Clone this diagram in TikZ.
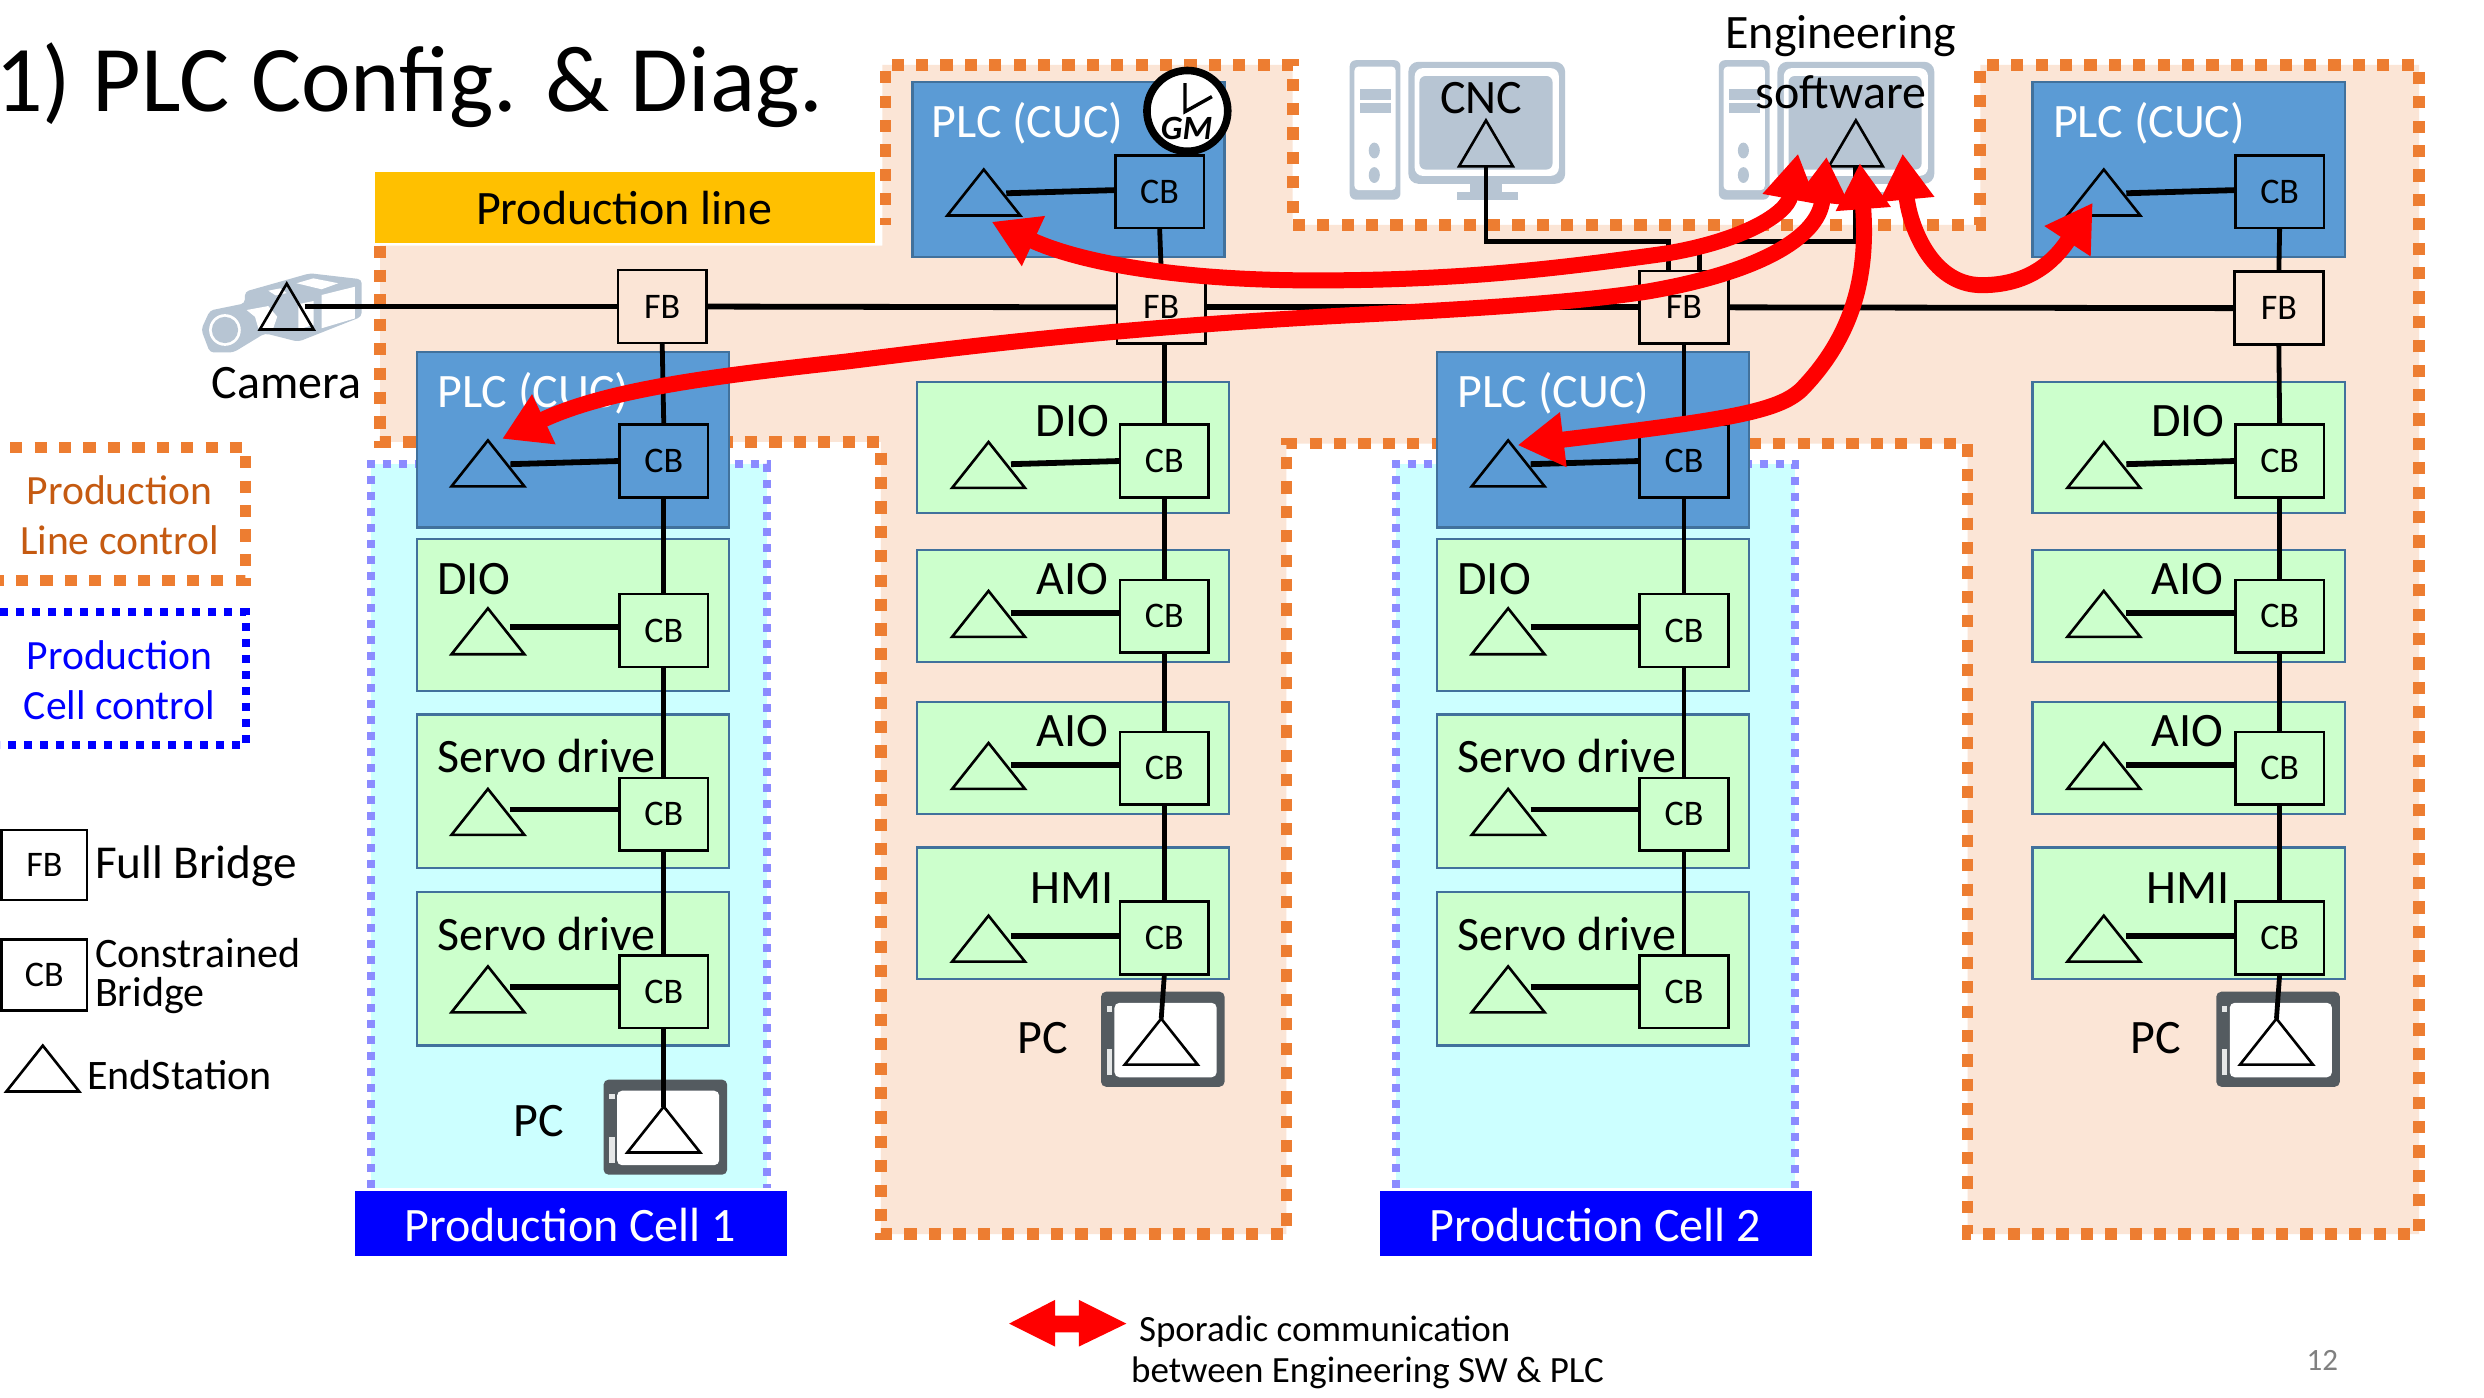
\documentclass[tikz,border=0pt]{standalone}
\usepackage{fontspec}
\setmainfont{Carlito}
\usetikzlibrary{shapes.geometric,arrows.meta}
\definecolor{peach}{HTML}{FBE5D6}
\definecolor{orangeD}{HTML}{ED7D31}
\definecolor{orangeT}{HTML}{C55A11}
\definecolor{cellD}{HTML}{8B8BFF}
\definecolor{cyanF}{HTML}{CCFFFF}
\definecolor{plcF}{HTML}{5B9BD5}
\definecolor{edgeB}{HTML}{41719C}
\definecolor{greenF}{HTML}{CCFFCC}
\definecolor{iconG}{HTML}{B7C5D3}
\definecolor{pcG}{HTML}{545B60}
\definecolor{yellowF}{HTML}{FFC000}
\def\uu{0.79209pt}
\newcommand{\fs}[1]{\fontsize{#1pt}{#1pt}\selectfont}
\tikzset{
 every node/.append style={inner sep=0pt,outer sep=0pt},
 lbl/.style={font=\fs{24}},
 lblw/.style={lbl,text=white},
 devbox/.style={draw=edgeB,line width=1.1pt,fill=#1},
 bridge/.style={draw=black,line width=1.3pt,fill=#1,minimum width={56*\uu},minimum height={46*\uu},font=\fs{18}},
 tristyle/.style={draw=black,line width=1.3pt,isosceles triangle,shape border rotate=90,isosceles triangle stretches,anchor=apex,minimum width={46*\uu},minimum height={29*\uu}},
 trinarrow/.style={tristyle,minimum width={34*\uu}},
 bus/.style={draw=black,line width=2.9pt},
 vbus/.style={draw=black,line width=2.4pt},
 orangedash/.style={draw=orangeD,line width=5.8pt,dash pattern=on 6.1pt off 6.1pt},
 celldash/.style={draw=cellD,line width=4pt,dash pattern=on 4pt off 4pt},
 bluedash/.style={draw=blue,line width=4pt,dash pattern=on 4pt off 4pt},
 redarrow/.style={draw=red,line width=8pt,{Triangle[length=23pt,width=26pt]}-{Triangle[length=23pt,width=26pt]}},
}
\newcommand{\bx}[6]{\node[#2,minimum width={(#5-#3)*\uu},minimum height={(#6-#4)*\uu}] (#1) at ({(#3+#5)/2},{(#4+#6)/2}) {};}
% id, L, T, B, fill, cb y, tri y, line left y, line right y
\newcommand{\devrow}[9]{
 \bx{box#1}{devbox=#5}{#2}{#3}{#2+197}{#4}
 \node[bridge=#5] (cb#1) at ({#2+156},#6) {CB};
 \node[tristyle] (tri#1) at ({#2+45},#7) {};
 \draw[bus] (tri#1.east |- 0,#8) -- (cb#1.west |- 0,#9);
}
% id, x0, y0 (top left of the icon)
\newcommand{\pcicon}[3]{
 \fill[pcG,rounded corners=2.5pt] (#2,#3) rectangle ++(78,60);
 \fill[white,rounded corners=2.5pt] ({#2+8.5},{#3+7}) rectangle ({#2+73},{#3+54});
 \fill[white!85!pcG] ({#2+3.5},{#3+9}) rectangle ++(3.5,3.5);
 \fill[white!85!pcG] ({#2+3.5},{#3+36}) rectangle ++(3.5,16.5);
 \node[tristyle] (tri#1) at ({#2+38},{#3+17}) {};
}
% id, dx
\newcommand{\station}[2]{
 \fill[iconG,rounded corners=3pt] ({852+#2},38) rectangle ({884+#2},126);
 \fill[white,rounded corners=2pt] ({855+#2},42) rectangle ({881+#2},120);
 \fill[iconG] ({858.5+#2},56) rectangle ({878+#2},63);
 \fill[iconG] ({858.5+#2},65) rectangle ({878+#2},71.5);
 \fill[iconG] ({867.5+#2},95) ellipse [x radius=3.5,y radius=5];
 \fill[iconG] ({867.5+#2},110.5) ellipse [x radius=3.5,y radius=5];
 \fill[iconG,rounded corners=5pt] ({889+#2},39) rectangle ({988+#2},116);
 \fill[white,rounded corners=4pt] ({893+#2},43) rectangle ({984+#2},111);
 \fill[iconG,rounded corners=3pt] ({896+#2},48) rectangle ({980+#2},107);
 \fill[iconG] ({928+#2},116) rectangle ({948+#2},121);
 \fill[iconG] ({920+#2},121) rectangle ({958+#2},126);
}
\begin{document}
\begin{tikzpicture}[x=0.79209pt,y=-0.79209pt]
\useasboundingbox (0,0) rectangle (1568,882);
\fill[white] (0,0) rectangle (1568,882);
% production line region
\fill[peach] (240,155)--(557,155)--(557,41)--(816,41)--(816,142)--(1250,142)--(1250,41)--(1527,41)--(1527,779)--(1242,779)--(1242,280)--(812,280)--(812,779)--(556,779)--(556,279)--(240,279)--cycle;
\draw[orangedash] (240,155)--(240,279)--(556,279)--(556,779)--(812,779)--(812,280)--(1242,280)--(1242,779)--(1527,779)--(1527,41)--(1250,41)--(1250,142)--(816,142)--(816,41)--(559,41)--(559,142);
% production cells
\fill[cyanF] (234,293) rectangle (484,750);
\draw[celldash] (234,750)--(234,293)--(484,293)--(484,750);
\fill[cyanF] (881,293) rectangle (1133,750);
\draw[celldash] (881,750)--(881,293)--(1133,293)--(1133,750);
% title
\node[anchor=west,font=\fs{47}] (title) at (-3,54) {1) PLC Config. \& Diag.};
% yellow
\bx{pline}{fill=yellowF,draw=white,line width=1pt}{236}{108}{553}{154}
\node[lbl] (plinet) at (394,131.5) {Production line};
% camera
\fill[iconG,rounded corners=2pt] (154.6,184.1)--(195.6,172.5)--(228.3,176.3)--(228.3,199.9)--(188.3,215.7)--(167.2,210.4)--(147.3,222.5)--(132.5,222.5)--(127,208)--(132.5,196)--(154.6,191.5)--cycle;
\fill[white] (142,208.3) circle [radius=10];
\fill[iconG] (142,208.3) circle [radius=8.3];
\fill[white] (155.7,195.7)--(169.3,193.2)--(175,199.9)--(172.5,207.2)--(163,207)--(161,200)--cycle;
\fill[white] (203,186.2)--(224,181)--(224,201)--(203,207.2)--cycle;
\fill[white] (187.2,178.8)--(197.8,175.7)--(213.5,178.8)--(203,182.6)--cycle;
\fill[white] (169.4,183.5)--(177,182)--(181,185)--(174,186.5)--cycle;
\fill[white] (188.3,192)--(198,190)--(198,205)--(188.3,208)--cycle;
\node[trinarrow] (triCam) at (181,179) {};
\node[lbl] (camt) at (181,242) {Camera};
% stations
\station{cnc}{0}
\station{eng}{233}
\node[trinarrow] (triCnc) at (938,76) {};
\node[trinarrow] (triEng) at (1171.5,76) {};
\node[lbl] (cnct) at (935,62) {CNC};
\node[lbl] (engt) at (1162,22.5) {Engineering};
\node[lbl] (engs) at (1162,58.5) {software};
% full bridges
\node[bridge=peach] (fbA) at (418,193.5) {FB};
\node[bridge=peach] (fbB) at (733,194) {FB};
\node[bridge=peach] (fbC) at (1063,194) {FB};
\node[bridge=peach] (fbD) at (1438.5,194.5) {FB};
% column A
\devrow{A1}{263}{222}{333}{plcF}{291}{278}{293}{291}
\devrow{A2}{263}{340}{436}{greenF}{398}{384}{396}{396}
\devrow{A3}{263}{451}{548}{greenF}{514}{498}{511}{511}
\devrow{A4}{263}{563}{660}{greenF}{626}{610}{623}{623}
\pcicon{A5}{381}{681.5}
\node[lblw,anchor=west] (tA1) at (276,248.5) {PLC (CUC)};
\node[lbl,anchor=west] (tA2) at (276,365.5) {DIO};
\node[lbl,anchor=west] (tA3) at (276,477.5) {Servo drive};
\node[lbl,anchor=west] (tA4) at (276,589.5) {Servo drive};
\node[lbl] (tA5) at (340,707.5) {PC};
% column C
\devrow{C1}{907}{222}{333}{plcF}{291}{278}{293}{291}
\devrow{C2}{907}{340}{436}{greenF}{398}{384}{396}{396}
\devrow{C3}{907}{451}{548}{greenF}{514}{498}{511}{511}
\devrow{C4}{907}{563}{660}{greenF}{626}{610}{623}{623}
\node[lblw,anchor=west] (tC1) at (920,248.5) {PLC (CUC)};
\node[lbl,anchor=west] (tC2) at (920,365.5) {DIO};
\node[lbl,anchor=west] (tC3) at (920,477.5) {Servo drive};
\node[lbl,anchor=west] (tC4) at (920,589.5) {Servo drive};
% column B
\devrow{B0}{576}{52}{162}{plcF}{121}{107}{122}{120}
\devrow{B1}{579}{241}{324}{greenF}{291}{279}{293}{291}
\devrow{B2}{579}{347}{418}{greenF}{389}{373}{387}{387}
\devrow{B3}{579}{443}{514}{greenF}{485}{469}{483}{483}
\devrow{B4}{579}{535}{618}{greenF}{592}{578}{591}{591}
\pcicon{B5}{695}{626}
\node[lblw,anchor=west] (tB0) at (588,78) {PLC (CUC)};
\node[lbl] (tB1) at (677,265.5) {DIO};
\node[lbl] (tB2) at (677,365.5) {AIO};
\node[lbl] (tB3) at (677,461.5) {AIO};
\node[lbl] (tB4) at (677,560.5) {HMI};
\node[lbl] (tB5) at (658,655.5) {PC};
% column D
\devrow{D0}{1283}{52}{162}{plcF}{121}{107}{122}{120}
\devrow{D1}{1283}{241}{324}{greenF}{291}{279}{293}{291}
\devrow{D2}{1283}{347}{418}{greenF}{389}{373}{387}{387}
\devrow{D3}{1283}{443}{514}{greenF}{485}{469}{483}{483}
\devrow{D4}{1283}{535}{618}{greenF}{592}{578}{591}{591}
\pcicon{D5}{1399}{626}
\node[lblw,anchor=west] (tD0) at (1296,78) {PLC (CUC)};
\node[lbl] (tD1) at (1381,265.5) {DIO};
\node[lbl] (tD2) at (1381,365.5) {AIO};
\node[lbl] (tD3) at (1381,461.5) {AIO};
\node[lbl] (tD4) at (1381,560.5) {HMI};
\node[lbl] (tD5) at (1361,655.5) {PC};
% bus
\draw[bus] (triCam.east |- fbA.west) -- (fbA.west);
\draw[bus] (fbA.east) -- (fbB.west);
\draw[bus] (fbB.east) -- (fbC.west);
\draw[bus] (fbC.east) -- (fbD.west);
% vertical links
\draw[vbus] (fbA.south) -- (cbA1.north);
\draw[vbus] (cbA1.south) -- (cbA2.north);
\draw[vbus] (cbA2.south) -- (cbA3.north);
\draw[vbus] (cbA3.south) -- (cbA4.north);
\draw[vbus] (cbA4.south) -- (triA5.apex);
\draw[vbus] (fbC.south) -- (cbC1.north);
\draw[vbus] (cbC1.south) -- (cbC2.north);
\draw[vbus] (cbC2.south) -- (cbC3.north);
\draw[vbus] (cbC3.south) -- (cbC4.north);
\draw[vbus] (cbB0.south) -- (fbB.north);
\draw[vbus] (cbB1.north |- fbB.south) -- (cbB1.north);
\draw[vbus] (cbB1.south) -- (cbB2.north);
\draw[vbus] (cbB2.south) -- (cbB3.north);
\draw[vbus] (cbB3.south) -- (cbB4.north);
\draw[vbus] (cbB4.south) -- (triB5.apex);
\draw[vbus] (cbD0.south) -- (fbD.north);
\draw[vbus] (fbD.south) -- (cbD1.north);
\draw[vbus] (cbD1.south) -- (cbD2.north);
\draw[vbus] (cbD2.south) -- (cbD3.north);
\draw[vbus] (cbD3.south) -- (cbD4.north);
\draw[vbus] (cbD4.south) -- (triD5.apex);
% controller links to the line
\coordinate (inC1) at (1053,171);
\coordinate (inC2) at (1073,171);
\draw[vbus] (triCnc.south) -- (triCnc.south |- 0,152.5) -- (inC1 |- 0,152.5) -- (inC1);
\draw[vbus] (triEng.south) -- (triEng.south |- 0,152.5) -- (inC2 |- 0,152.5) -- (inC2);
% grandmaster clock
\node[circle,fill=white,draw=black,line width=3.8pt,minimum size={51*\uu}] (gm) at (749.5,70) {};
\draw[line width=1.7pt] (748,52.5) -- (748,70.5) -- (765,61);
\node[font=\fs{17}\bfseries\itshape] (gmt) at (749,81) {GM};
% production cell labels
\bx{labA}{fill=blue}{224}{752}{497}{793}
\node[lblw] (labAt) at (360,773.5) {Production Cell 1};
\bx{labC}{fill=blue}{871}{752}{1144}{793}
\node[lblw] (labCt) at (1007,773.5) {Production Cell 2};
% legend
\draw[orangedash] (6.5,282.5)--(155,282.5)--(155,366.5)--(0,366.5);
\node[font=\fs{20.8},text=orangeT] (lg1) at (75.5,309.5) {Production};
\node[font=\fs{20.8},text=orangeT] (lg2) at (75.5,341) {Line control};
\draw[bluedash] (0,386.6)--(155,386.6)--(155,470.5)--(0,470.5);
\node[font=\fs{20.8},text=blue] (lg3) at (75.5,413.5) {Production};
\node[font=\fs{20.8},text=blue] (lg4) at (75.5,445) {Cell control};
\node[bridge=white,minimum width={54*\uu},minimum height={44*\uu}] (lgFB) at (28,546) {FB};
\node[font=\fs{23.6},anchor=west] (lgFBt) at (60,546.5) {Full Bridge};
\node[bridge=white,minimum width={54*\uu},minimum height={45*\uu}] (lgCB) at (28,615.5) {CB};
\node[font=\fontsize{21}{19.8}\selectfont,anchor=west,align=left] (lgCBt) at (60,616) {Constrained\\Bridge};
\node[tristyle] (lgTri) at (27,660) {};
\node[font=\fs{21},anchor=west] (lgTrit) at (55,678.5) {EndStation};
% sporadic arrows
\coordinate (tipB) at (626,140);
\coordinate (tipA) at (317,277);
\coordinate (tipC) at (958,281);
\coordinate (tipD) at (1321,128);
\coordinate (eng1) at (1135,97);
\coordinate (eng2) at (1153,99);
\coordinate (eng3) at (1174,103);
\coordinate (eng4) at (1201,97);
\draw[redarrow] (tipB) .. controls (680,165) and (740,177) .. (830,177) .. controls (920,177) and (980,170) .. (1052,160) .. controls (1100,152) and (1128,135) .. (eng1);
\draw[redarrow] (tipA) .. controls (385,245) and (455,237) .. (536,228) .. controls (600,220) and (700,207) .. (852,199) .. controls (950,194) and (1000,190) .. (1040,184) .. controls (1110,172) and (1148,150) .. (eng2);
\draw[redarrow] (eng3) .. controls (1179,170) and (1172,210) .. (1137,246) .. controls (1122,260) and (1090,265) .. (tipC);
\draw[redarrow] (eng4) .. controls (1205,140) and (1218,180) .. (1251,180) .. controls (1285,180) and (1300,160) .. (tipD);
% bottom legend
\fill[red] (637,835.5)--(666,820.5)--(666,830.5)--(681,830.5)--(681,820.5)--(711,835.5)--(681,850)--(681,841)--(666,841)--(666,850)--cycle;
\node[font=\fs{18.5},anchor=west] (sp1) at (719,840.5) {Sporadic communication};
\node[font=\fs{18.5},anchor=west] (sp2) at (714,866.5) {between Engineering SW \& PLC};
\node[font=\fs{15.5},text=black!50] (pg) at (1466,859) {12};
\end{tikzpicture}
\end{document}
